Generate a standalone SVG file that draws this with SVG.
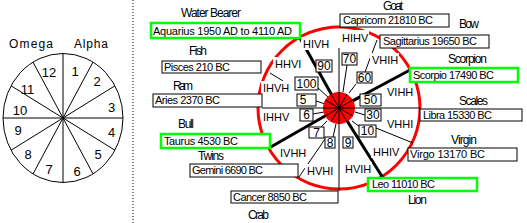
<svg xmlns="http://www.w3.org/2000/svg" width="527" height="223" viewBox="0 0 527 223">
<style>
text{font-family:"Liberation Sans",Arial,sans-serif;fill:#000}
.lbl{font-size:12px}
.num{font-size:13px;text-anchor:middle}
.bt{font-size:11px}
.nb{font-size:12px;text-anchor:middle}
.rom{font-size:11px}
.bg{fill:#fff;stroke:none}
.box{fill:#fff;stroke:#000;stroke-width:1}
.gbox{fill:#fff;stroke:#00ff00;stroke-width:2.5}
.thin{stroke:#000;stroke-width:1;fill:none}
.thick{stroke:#000;stroke-width:3;fill:none}
</style>
<line x1="133" y1="0" x2="133" y2="223" stroke="#000" stroke-width="1" stroke-dasharray="1,2"/>
<g id="wheel-left">
<ellipse cx="63" cy="118" rx="60" ry="64.5" fill="#fff" stroke="#000"/>
<g class="thin">
<line x1="63" y1="53.5" x2="63" y2="182.5"/>
<line x1="93" y1="62.1" x2="33" y2="173.9"/>
<line x1="115" y1="85.75" x2="11" y2="150.25"/>
<line x1="3" y1="118" x2="123" y2="118"/>
<line x1="115" y1="150.25" x2="11" y2="85.75"/>
<line x1="93" y1="173.9" x2="33" y2="62.1"/>
</g>
<text class="lbl" x="9" y="48" textLength="44">Omega</text>
<text class="lbl" x="74" y="48" textLength="34">Alpha</text>
<text class="num" x="49" y="77">12</text>
<text class="num" x="75" y="76">1</text>
<text class="num" x="97" y="86">2</text>
<text class="num" x="111.5" y="112">3</text>
<text class="num" x="111.5" y="137">4</text>
<text class="num" x="98" y="159">5</text>
<text class="num" x="77" y="176">6</text>
<text class="num" x="49" y="174">7</text>
<text class="num" x="28" y="159">8</text>
<text class="num" x="18" y="135">9</text>
<text class="num" x="20" y="115">10</text>
<text class="num" x="27.5" y="94">11</text>
</g>
<g id="red-ring">
<circle cx="339" cy="108" r="81" fill="none" stroke="#ff0000" stroke-width="3"/>
</g>
<g id="connectors">
<g class="thin">
<line x1="339" y1="48" x2="339" y2="191"/>
<line x1="262" y1="108" x2="420" y2="108"/>
<line x1="270" y1="73" x2="283" y2="81"/>
<line x1="318" y1="88" x2="328" y2="97"/>
<line x1="316" y1="101" x2="325" y2="104"/>
<line x1="313" y1="114" x2="324" y2="112"/>
<line x1="321" y1="127" x2="327" y2="121"/>
<line x1="333" y1="137" x2="336" y2="124"/>
<line x1="325" y1="139" x2="299" y2="177"/>
<line x1="360" y1="127" x2="352" y2="121"/>
<line x1="376" y1="128" x2="413" y2="143"/>
<line x1="365" y1="115" x2="355" y2="112"/>
<line x1="360" y1="98" x2="353" y2="102"/>
<line x1="377" y1="40" x2="365" y2="72"/>
<line x1="356" y1="84" x2="349" y2="93"/>
<line x1="347" y1="65" x2="343" y2="92"/>
</g>
<g class="thick">
<line x1="339" y1="108" x2="300" y2="38"/>
<line x1="339" y1="108" x2="410" y2="70"/>
<line x1="339" y1="108" x2="269" y2="148"/>
<line x1="339" y1="108" x2="383" y2="178"/>
</g>
</g>
<g id="hub">
<circle cx="339" cy="108" r="16" fill="#ff0000"/>
<g class="thin">
<line x1="339" y1="92" x2="339" y2="124"/>
<line x1="323" y1="108" x2="355" y2="108"/>
<line x1="347" y1="94.14" x2="331" y2="121.86"/>
<line x1="352.86" y1="100" x2="325.14" y2="116"/>
<line x1="352.86" y1="116" x2="325.14" y2="100"/>
<line x1="347" y1="121.86" x2="331" y2="94.14"/>
</g>
</g>
<g id="n90"><rect class="box" x="316" y="60" width="16" height="12"/><text class="nb" x="324" y="70">90</text></g>
<g id="n70"><rect class="box" x="342" y="53" width="15" height="12"/><text class="nb" x="349.5" y="63">70</text></g>
<g id="n100"><rect class="box" x="295" y="77" width="23" height="13"/><text class="nb" x="306.5" y="88">100</text></g>
<g id="n60"><rect class="box" x="357" y="72" width="15" height="11"/><text class="nb" x="364.5" y="82">60</text></g>
<g id="n5"><rect class="box" x="297" y="94" width="19" height="12"/><text class="nb" x="303" y="104">5</text></g>
<g id="n50"><rect class="box" x="360" y="94" width="21" height="12"/><text class="nb" x="370.5" y="104">50</text></g>
<g id="n6"><rect class="box" x="300" y="109" width="13" height="12"/><text class="nb" x="306.5" y="119">6</text></g>
<g id="n30"><rect class="box" x="365" y="109" width="16" height="12"/><text class="nb" x="373" y="119">30</text></g>
<g id="n7"><rect class="box" x="309" y="127" width="15" height="11"/><text class="nb" x="316.5" y="137">7</text></g>
<g id="n10"><rect class="box" x="359" y="125" width="17" height="12"/><text class="nb" x="367.5" y="135">10</text></g>
<g id="n8"><rect class="box" x="325" y="137" width="10" height="11"/><text class="nb" x="330" y="147">8</text></g>
<g id="n9"><rect class="box" x="343" y="137" width="10" height="11"/><text class="nb" x="348" y="147">9</text></g>
<g id="roman">
<rect class="bg" x="301" y="37" width="29" height="13"/><text class="rom" x="303" y="48">HIVH</text>
<rect class="bg" x="340" y="30" width="29" height="13"/><text class="rom" x="342" y="42">HIHV</text>
<rect class="bg" x="370" y="53" width="29" height="13"/><text class="rom" x="372" y="64">VHIH</text>
<rect class="bg" x="385" y="85" width="29" height="13"/><text class="rom" x="387" y="96">VIHH</text>
<rect class="bg" x="385" y="117" width="30" height="13"/><text class="rom" x="387" y="128">VHHI</text>
<rect class="bg" x="371" y="145" width="29" height="13"/><text class="rom" x="373" y="156">HHIV</text>
<rect class="bg" x="343" y="162" width="29" height="13"/><text class="rom" x="345" y="173">HVIH</text>
<rect class="bg" x="305" y="164" width="30" height="13"/><text class="rom" x="307" y="175">HVHI</text>
<rect class="bg" x="278" y="146" width="29" height="13"/><text class="rom" x="280" y="157">IVHH</text>
<rect class="bg" x="261" y="110" width="29" height="13"/><text class="rom" x="263" y="121">IHHV</text>
<rect class="bg" x="261" y="81" width="29" height="13"/><text class="rom" x="263" y="92">IHVH</text>
<rect class="bg" x="273" y="57" width="30" height="13"/><text class="rom" x="275" y="68">HHVI</text>
</g>
<g id="aquarius"><text class="lbl" x="181" y="17" textLength="60">Water Bearer</text><rect class="gbox" x="151" y="23" width="149" height="15"/><text class="bt" x="153" y="35" textLength="139">Aquarius  1950 AD to 4110 AD</text></g>
<g id="pisces"><text class="lbl" x="189" y="55" textLength="18">Fish</text><rect class="box" x="162" y="61" width="99" height="12"/><text class="bt" x="164" y="71" textLength="66">Pisces 210 BC</text></g>
<g id="aries"><text class="lbl" x="173" y="90" textLength="20">Ram</text><rect class="box" x="153" y="94" width="109" height="13"/><text class="bt" x="155" y="104" textLength="65">Aries 2370 BC</text></g>
<g id="taurus"><text class="lbl" x="178" y="128" textLength="16">Bull</text><rect class="gbox" x="161" y="134" width="109" height="14"/><text class="bt" x="164" y="145" textLength="74">Taurus 4530 BC</text></g>
<g id="gemini"><text class="lbl" x="198" y="160" textLength="26">Twins</text><rect class="box" x="190" y="164" width="108" height="13"/><text class="bt" x="192" y="174" textLength="71">Gemini 6690 BC</text></g>
<g id="cancer"><rect class="box" x="231" y="191" width="107" height="12"/><text class="bt" x="233" y="201" textLength="74">Cancer 8850  BC</text><text class="lbl" x="248" y="219" textLength="21">Crab</text></g>
<g id="capricorn"><text class="lbl" x="383" y="10" textLength="20">Goat</text><rect class="box" x="340" y="14" width="109" height="13"/><text class="bt" x="343" y="24" textLength="90">Capricorn 21810 BC</text></g>
<g id="sagittarius"><text class="lbl" x="459" y="28" textLength="20">Bow</text><rect class="box" x="380" y="35" width="109" height="13"/><text class="bt" x="383" y="45" textLength="94">Sagittarius 19650 BC</text></g>
<g id="scorpio"><text class="lbl" x="448" y="63" textLength="39">Scorpion</text><rect class="gbox" x="410" y="68" width="108" height="14"/><text class="bt" x="413" y="79" textLength="81">Scorpio 17490 BC</text></g>
<g id="libra"><text class="lbl" x="459" y="105" textLength="29">Scales</text><rect class="box" x="420" y="109" width="102" height="12"/><text class="bt" x="423" y="119" textLength="69">Libra 15330 BC</text></g>
<g id="virgo"><text class="lbl" x="451" y="144" textLength="26">Virgin</text><rect class="box" x="408" y="148" width="109" height="13"/><text class="bt" x="410" y="158" textLength="75">Virgo 13170  BC</text></g>
<g id="leo"><rect class="gbox" x="368" y="178" width="109" height="13"/><text class="bt" x="372" y="188" textLength="63">Leo 11010 BC</text><text class="lbl" x="408" y="204" textLength="19">Lion</text></g>
</svg>
